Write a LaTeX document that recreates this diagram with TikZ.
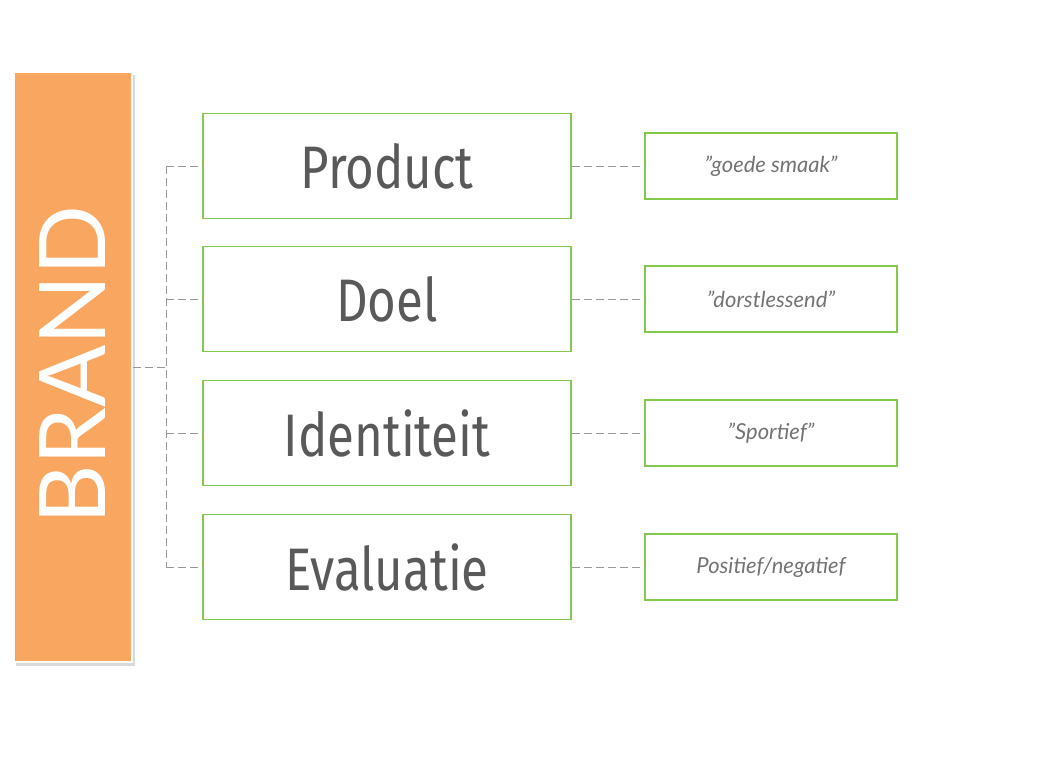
\documentclass[tikz,border=0pt]{standalone}
\usepackage{fontspec}
\setmainfont{Lato}
\newfontfamily\condfont{Fira Sans}
\begin{document}
\begin{tikzpicture}[x=1pt,y=-1pt,
  mid/.style={draw=green!40!olive!70!white,line width=1.5pt,minimum width=368pt,minimum height=105pt,inner sep=0pt,text=black!65,font=\condfont\fontsize{60}{60}\selectfont},
  side/.style={draw=green!40!olive!70!white,line width=1.2pt,minimum width=252pt,minimum height=66pt,inner sep=0pt,text=black!55,font=\itshape\fontsize{22}{22}\selectfont},
  con/.style={draw=black!40,dashed,line width=1pt,dash pattern=on 8pt off 4pt}]
\useasboundingbox (0,0) rectangle (1040,756);
\fill[black!15] (16,75) rectangle (135,666);
\node[fill={rgb,255:red,249;green,166;blue,97},draw=white,line width=2pt,minimum width=118pt,minimum height=590pt,inner sep=0pt] (brand) at (73,367) {};
\node[rotate=90,text=white,font=\fontsize{92}{92}\selectfont] at (73,365) {BRAND};
\node[mid] (p) at (387,166) {\scalebox{0.82}[1]{Product}};
\node[mid] (d) at (387,299) {\scalebox{0.82}[1]{Doel}};
\node[mid] (i) at (387,433) {\scalebox{0.82}[1]{Identiteit}};
\node[mid] (e) at (387,567) {\scalebox{0.82}[1]{Evaluatie}};
\node[side] (sp) at (771,166) {"goede smaak"};
\node[side] (sd) at (771,299) {"dorstlessend"};
\node[side] (si) at (771,433) {"Sportief"};
\node[side] (se) at (771,567) {Positief/negatief};
\coordinate (j) at (166,367);
\coordinate (jt) at (166,166);
\coordinate (jb) at (166,567);
\coordinate (jd) at (166,299);
\coordinate (ji) at (166,433);
\draw[con] (brand.east) -- (j);
\draw[con] (jt) -- (jb);
\draw[con] (jt) -- (p.west);
\draw[con] (jd) -- (d.west);
\draw[con] (ji) -- (i.west);
\draw[con] (jb) -- (e.west);
\draw[con] (p.east) -- (sp.west);
\draw[con] (d.east) -- (sd.west);
\draw[con] (i.east) -- (si.west);
\draw[con] (e.east) -- (se.west);
\end{tikzpicture}
\end{document}
